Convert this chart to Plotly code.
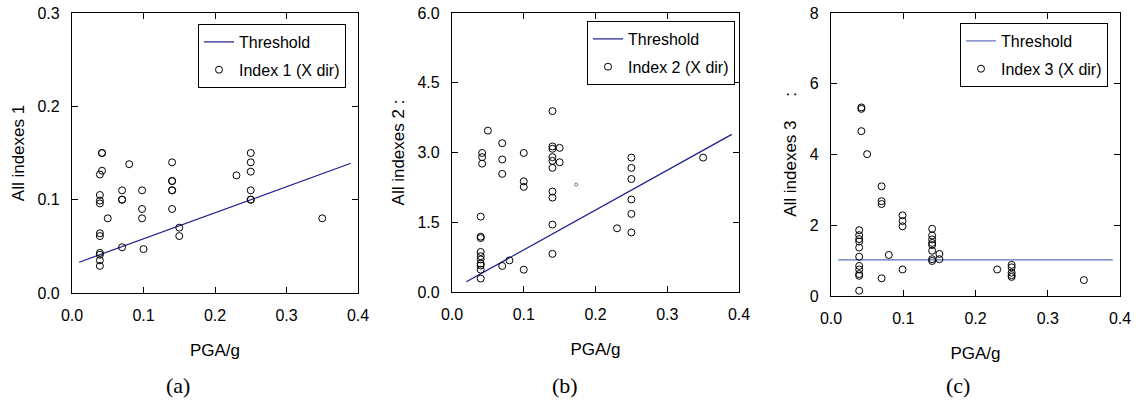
import plotly.graph_objects as go

# ---------------- data ----------------
# Panel (a): Index 1
a_x = [0.039]*10 + [0.042]*3 + [0.05] + [0.07]*4 + [0.08] + [0.098]*3 + [0.10] + [0.14]*6 + [0.15]*2 + [0.23] + [0.25]*6 + [0.35]
a_y = [0.127, 0.105, 0.099, 0.096, 0.064, 0.061, 0.043, 0.041, 0.035, 0.029,
       0.150, 0.150, 0.131,
       0.080,
       0.110, 0.100, 0.100, 0.049,
       0.138,
       0.110, 0.090, 0.080,
       0.047,
       0.140, 0.120, 0.120, 0.110, 0.110, 0.090,
       0.070, 0.061,
       0.126,
       0.150, 0.140, 0.130, 0.110, 0.100, 0.100,
       0.080]
a_thr_x = [0.01, 0.39]
a_thr_y = [0.033, 0.139]

# Panel (b): Index 2
b_x = [0.04]*10 + [0.042]*3 + [0.05] + [0.07]*4 + [0.08] + [0.10]*4 + [0.14]*10 + [0.15]*2 + [0.23] + [0.25]*6 + [0.35]
b_y = [1.62, 1.19, 1.16, 0.86, 0.77, 0.70, 0.61, 0.57, 0.48, 0.29,
       2.99, 2.90, 2.76,
       3.47,
       3.20, 2.85, 2.54, 0.56,
       0.68,
       2.99, 2.38, 2.26, 0.48,
       3.89, 3.13, 3.08, 2.90, 2.82, 2.67, 2.16, 2.03, 1.45, 0.82,
       3.10, 2.79,
       1.37,
       2.89, 2.67, 2.43, 1.99, 1.68, 1.28,
       2.89]
b_small_x = [0.173]
b_small_y = [2.31]
b_thr_x = [0.02, 0.39]
b_thr_y = [0.22, 3.39]

# Panel (c): Index 3
c_x = [0.039]*11 + [0.042]*3 + [0.05] + [0.07]*4 + [0.08] + [0.099]*4 + [0.14]*8 + [0.15]*2 + [0.23] + [0.25]*5 + [0.35]
c_y = [1.86, 1.72, 1.61, 1.54, 1.37, 1.11, 0.85, 0.75, 0.62, 0.57, 0.15,
       5.33, 5.29, 4.66,
       4.01,
       3.10, 2.68, 2.60, 0.50,
       1.16,
       2.28, 2.12, 1.97, 0.75,
       1.90, 1.71, 1.60, 1.50, 1.44, 1.28, 1.04, 0.99,
       1.19, 1.04,
       0.75,
       0.88, 0.81, 0.66, 0.59, 0.54,
       0.45]
c_thr_x = [0.01, 0.39]
c_thr_y = [1.02, 1.02]

x_ticks = [0.0, 0.1, 0.2, 0.3, 0.4]
a_yticks = [0.0, 0.1, 0.2, 0.3]
b_yticks = [0.0, 1.5, 3.0, 4.5, 6.0]
c_yticks = [0, 2, 4, 6, 8]

y_titles = ["All indexes 1", "All indexes 2 :", "All indexes 3     :"]
legend_names = ["Index 1 (X dir)", "Index 2 (X dir)", "Index 3 (X dir)"]
panel_labels = ["(a)", "(b)", "(c)"]
thr_colors = ["#1c1c8e", "#1c1c8e", "#5f6cc0"]

W, H = 1138, 405
FONT = "Arial"

# plot area boxes in pixels (left, right, top, bottom)
boxes = [(72, 358, 13, 293), (452, 739, 13, 292), (831, 1120, 13, 296)]
legend_pos = [(198, 24), (587, 21), (960, 23)]
label_x = [178, 565, 958]

fig = go.Figure()

panels = [
    (a_x, a_y, a_thr_x, a_thr_y, a_yticks, [0, 0.3], ".1f"),
    (b_x, b_y, b_thr_x, b_thr_y, b_yticks, [0, 6.0], ".1f"),
    (c_x, c_y, c_thr_x, c_thr_y, c_yticks, [0, 8], "d"),
]

for i, (px, py, tx, ty, yt, yr, yfmt) in enumerate(panels):
    n = "" if i == 0 else str(i + 1)
    xa = "x" + n
    ya = "y" + n
    lg = "legend" + n
    fig.add_trace(go.Scatter(x=tx, y=ty, mode="lines", name="Threshold",
                             line=dict(color=thr_colors[i], width=1.2),
                             xaxis=xa, yaxis=ya, legend=lg, legendgroup=f"t{i}"))
    fig.add_trace(go.Scatter(x=px, y=py, mode="markers", name=legend_names[i],
                             marker=dict(symbol="circle-open", size=7, color="black",
                                         line=dict(width=1, color="black")),
                             xaxis=xa, yaxis=ya, legend=lg, legendgroup=f"p{i}"))
    if i == 1:
        fig.add_trace(go.Scatter(x=b_small_x, y=b_small_y, mode="markers", showlegend=False,
                                 marker=dict(symbol="circle-open", size=3, color="#555",
                                             line=dict(width=0.8, color="#555")),
                                 xaxis=xa, yaxis=ya))

    l, r, t, b = boxes[i]
    axis_common = dict(showline=True, linecolor="black", linewidth=1.3, mirror="ticks",
                       ticks="inside", ticklen=6, tickcolor="black", tickwidth=1,
                       showgrid=False, zeroline=False, automargin=False,
                       tickfont=dict(family=FONT, size=16, color="black"))
    fig.layout["xaxis" + n] = dict(
        domain=[l / W, r / W], range=[0, 0.4], tickvals=x_ticks, tickformat=".1f",
        anchor=ya, ticklabelstandoff=8,
        title=dict(text="PGA/g", font=dict(family=FONT, size=17, color="black"), standoff=20),
        **axis_common)
    fig.layout["yaxis" + n] = dict(
        domain=[1 - b / H, 1 - t / H], range=yr, tickvals=yt, tickformat=yfmt,
        anchor=xa, ticklabelstandoff=8,
        title=dict(text=y_titles[i], font=dict(family=FONT, size=17, color="black"), standoff=8),
        **axis_common)
    lx, ly = legend_pos[i]
    fig.layout[lg] = dict(x=lx / W, y=1 - ly / H, xanchor="left", yanchor="top",
                          xref="paper", yref="paper",
                          bordercolor="black", borderwidth=1, bgcolor="white",
                          font=dict(family=FONT, size=16, color="black"),
                          tracegroupgap=4, itemwidth=30)
    fig.add_annotation(x=label_x[i] / W, y=1 - 385 / H, xref="paper", yref="paper",
                       xanchor="center", yanchor="middle",
                       text=panel_labels[i], showarrow=False,
                       font=dict(family="Liberation Serif, Times New Roman, serif", size=22, color="black"))

fig.update_layout(width=W, height=H, margin=dict(l=0, r=0, t=0, b=0),
                  paper_bgcolor="white", plot_bgcolor="white", showlegend=True)

fig.write_html("out.html", config={"displayModeBar": False},
               post_script="document.body.style.margin='0';document.body.style.overflow='hidden';")
